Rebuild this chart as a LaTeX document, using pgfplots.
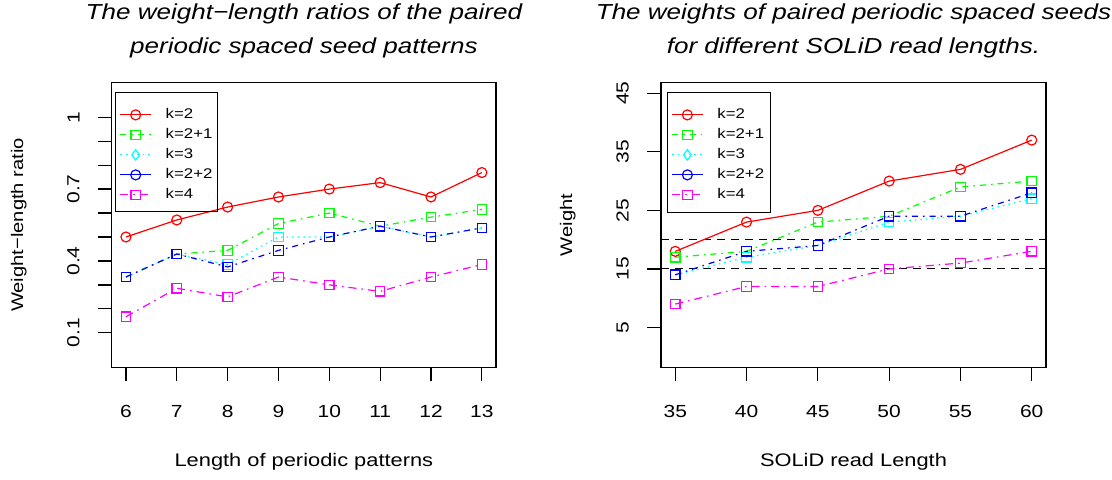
\documentclass[border=0pt]{standalone}
\usepackage{fontspec}
\setmainfont{Liberation Sans}[FakeStretch=1.2]
\usepackage{pgfplots}
\pgfplotsset{compat=1.18}

\definecolor{cRed}{RGB}{255,0,0}
\definecolor{cGreen}{RGB}{0,255,0}
\definecolor{cCyan}{RGB}{0,255,255}
\definecolor{cBlue}{RGB}{0,0,255}
\definecolor{cMag}{RGB}{255,0,255}

\newcommand{\ls}{\rule[-1.5pt]{0pt}{1pt}}

\pgfplotsset{
  rpanel/.style={
    scale only axis, width=192.2pt, height=142.3pt, anchor=south west,
    axis line style={line width=0.6pt},
    tick align=outside, xtick pos=bottom, ytick pos=left,
    major tick length=7pt,
    every tick/.style={black, line width=0.6pt},
    tick label style={font=\fontsize{8.75}{10}\selectfont, inner sep=0pt},
    xticklabel style={anchor=north},
    yticklabel style={rotate=90, anchor=south},
    xticklabel shift=11.85pt, yticklabel shift=8.85pt,
    /pgf/number format/assume math mode=true,
    label style={inner sep=0pt},
    xlabel style={font=\fontsize{9.1}{10}\selectfont, at={(axis description cs:0.5,-0.300)}, anchor=north},
    ylabel style={font=\fontsize{8.4}{10}\selectfont, at={(axis description cs:-0.220,0.5)}, anchor=south},
    every axis title shift=0pt,
    title style={font=\itshape\fontsize{10.85}{17}\selectfont, align=center,
      anchor=south, inner sep=0pt, at={(axis description cs:0.5,1)}, yshift=12pt},
    legend style={anchor=north west, draw=none, fill=none,
      font=\fontsize{7}{8}\selectfont, inner xsep=1.8pt, inner ysep=5.9pt,
      row sep=0pt, column sep=7pt,
      nodes={inner xsep=0pt, inner ysep=1.5pt, text height=5.5pt}},
    legend cell align=left,
    legend image code/.code={\draw[mark repeat=2,mark phase=2,#1]
      plot coordinates {(0pt,0pt) (7.7pt,0pt) (15.4pt,0pt)};},
  },
  sRed/.style={cRed, line width=0.6pt, mark=o, mark size=2.5pt, mark options={solid}},
  sGreen/.style={cGreen, line width=0.6pt, dash pattern=on 3pt off 2.5pt on 0.8pt off 2.5pt,
    mark=square, mark size=2.35pt, mark options={solid}},
  sCyan/.style={cCyan, line width=0.6pt, dash pattern=on 0.8pt off 2pt,
    mark=square, mark size=2.35pt, mark options={solid}},
  sBlue/.style={cBlue, line width=0.6pt, dash pattern=on 3pt off 2.5pt on 0.8pt off 2.5pt,
    mark=square, mark size=2.35pt, mark options={solid}},
  sMag/.style={cMag, line width=0.6pt, dash pattern=on 4pt off 2.5pt on 0.8pt off 2.5pt,
    mark=square, mark size=2.35pt, mark options={solid}},
  lCyan/.style={cCyan, line width=0.6pt, dash pattern=on 0.8pt off 2pt,
    mark=diamond, mark size=2.6pt, mark options={solid}},
  lBlue/.style={cBlue, line width=0.6pt, mark=o, mark size=2.5pt},
}

\begin{document}
\begin{tikzpicture}
\useasboundingbox (0,0) rectangle (556pt,239.5pt);

% left panel: weight-length ratios
\begin{axis}[rpanel, name=L, at={(55.85pt,55.85pt)},
  xmin=5.72, xmax=13.28, ymin=-0.044, ymax=1.144,
  xtick={6,7,8,9,10,11,12,13},
  ytick={0.1,0.2,0.3,0.4,0.5,0.6,0.7,0.8,0.9,1},
  yticklabels={0.1,{},{},0.4,{},{},0.7,{},{},1},
  xlabel={Length of periodic patterns},
  ylabel={Weight−length ratio},
  title={The weight−length ratios of the paired\\periodic spaced seed patterns},
  legend style={at={(axis description cs:0.0104,0.9649)}},
]
\addlegendimage{sRed}
\addlegendimage{sGreen}
\addlegendimage{lCyan}
\addlegendimage{lBlue}
\addlegendimage{sMag}
\legend{k=2\ls,k=2+1\ls,k=3\ls,k=2+2\ls,k=4\ls}
\addplot[sRed, forget plot] coordinates {(6,0.5) (7,0.571) (8,0.625) (9,0.667) (10,0.7) (11,0.727) (12,0.667) (13,0.769)};
\addplot[sGreen, forget plot] coordinates {(6,0.333) (7,0.429) (8,0.444) (9,0.556) (10,0.6) (11,0.545) (12,0.583) (13,0.615)};
\addplot[sCyan, forget plot] coordinates {(6,0.333) (7,0.429) (8,0.385) (9,0.5) (10,0.5) (11,0.545) (12,0.5) (13,0.538)};
\addplot[sBlue, forget plot] coordinates {(6,0.333) (7,0.429) (8,0.375) (9,0.444) (10,0.5) (11,0.545) (12,0.5) (13,0.538)};
\addplot[sMag, forget plot] coordinates {(6,0.167) (7,0.286) (8,0.25) (9,0.333) (10,0.3) (11,0.273) (12,0.333) (13,0.385)};
\end{axis}
\draw[line width=0.5pt] ([xshift=2pt,yshift=-5pt]L.north west) rectangle ++(50.8pt,-59.5pt);

% right panel: weights per read length
\begin{axis}[rpanel, name=R, at={(330.5pt,55.85pt)}, width=192.5pt,
  xmin=34, xmax=61, ymin=-1.8, ymax=46.8,
  xtick={35,40,45,50,55,60},
  ytick={5,15,25,35,45},
  xlabel={SOLiD read Length},
  ylabel={Weight},
  ylabel style={at={(axis description cs:-0.221,0.5)}},
  title={The weights of paired periodic spaced seeds\\for different SOLiD read lengths.},
  legend style={at={(axis description cs:0.0166,0.9649)}},
]
\addlegendimage{sRed}
\addlegendimage{sGreen}
\addlegendimage{lCyan}
\addlegendimage{lBlue}
\addlegendimage{sMag}
\legend{k=2\ls,k=2+1\ls,k=3\ls,k=2+2\ls,k=4\ls}
\addplot[black, line width=0.55pt, dash pattern=on 4pt off 3pt, forget plot] coordinates {(34,20) (61,20)};
\addplot[black, line width=0.55pt, dash pattern=on 4pt off 3pt, forget plot] coordinates {(34,15) (61,15)};
\addplot[sRed, forget plot] coordinates {(35,18) (40,23) (45,25) (50,30) (55,32) (60,37)};
\addplot[sGreen, forget plot] coordinates {(35,17) (40,18) (45,23) (50,24) (55,29) (60,30)};
\addplot[sCyan, forget plot] coordinates {(35,14) (40,17) (45,19) (50,23) (55,24) (60,27)};
\addplot[sBlue, forget plot] coordinates {(35,14) (40,18) (45,19) (50,24) (55,24) (60,28)};
\addplot[sMag, forget plot] coordinates {(35,9) (40,12) (45,12) (50,15) (55,16) (60,18)};
\end{axis}
\draw[line width=0.5pt] ([xshift=3.15pt,yshift=-5pt]R.north west) rectangle ++(51.35pt,-59.8pt);
\end{tikzpicture}
\end{document}
